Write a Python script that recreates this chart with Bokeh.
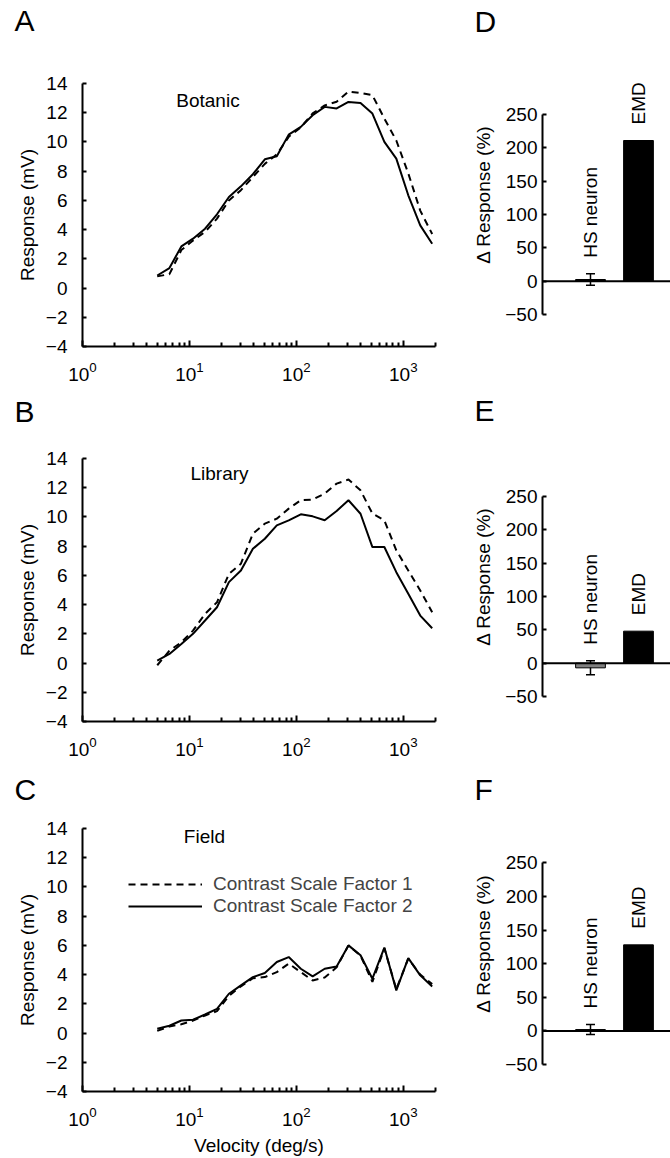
import math
from bokeh.plotting import figure
from bokeh.layouts import row, column
from bokeh.models import (Range1d, FixedTicker, Label, LabelSet, Legend, LegendItem, Span,
                          Whisker, TeeHead, ColumnDataSource, Title)
from bokeh.core.properties import value
from bokeh.embed import file_html
from bokeh.resources import INLINE

# ---------------- data ----------------
velocity = [5.0, 6.5, 8.4, 10.8, 14.0, 18.1, 23.4, 30.3, 39.2, 50.7, 65.6, 84.8,
            110, 142, 184, 238, 307, 398, 514, 665, 860, 1113, 1440, 1862]

botanic_csf1 = [0.8, 0.95, 2.6, 3.25, 3.85, 4.75, 6.0, 6.7, 7.6, 8.5, 9.15, 10.35,
                11.0, 11.95, 12.5, 12.75, 13.45, 13.35, 13.2, 11.6, 10.1, 7.85, 5.3, 3.7]
botanic_csf2 = [0.86, 1.37, 2.85, 3.38, 4.06, 5.05, 6.23, 6.96, 7.79, 8.81, 9.02, 10.5,
                11.03, 11.83, 12.4, 12.29, 12.74, 12.67, 11.94, 10.0, 8.86, 6.35, 4.29, 3.03]
library_csf1 = [-0.15, 0.85, 1.42, 2.22, 3.37, 4.16, 6.11, 6.8, 8.85, 9.54, 9.88, 10.57,
                11.14, 11.19, 11.6, 12.28, 12.56, 11.82, 10.23, 9.77, 7.71, 6.34, 4.97, 3.48]
library_csf2 = [0.16, 0.62, 1.31, 2.0, 2.91, 3.82, 5.54, 6.34, 7.82, 8.51, 9.42, 9.77,
                10.18, 10.04, 9.77, 10.41, 11.14, 10.22, 7.94, 7.94, 6.22, 4.74, 3.25, 2.38]
field_csf1 = [0.15, 0.45, 0.6, 0.85, 1.2, 1.5, 2.55, 3.2, 3.75, 3.83, 4.17, 4.75,
              4.17, 3.6, 3.8, 4.5, 6.0, 5.3, 3.5, 5.8, 3.0, 5.1, 4.0, 3.35]
field_csf2 = [0.29, 0.5, 0.86, 0.91, 1.27, 1.66, 2.69, 3.26, 3.83, 4.11, 4.86, 5.2,
              4.4, 3.88, 4.4, 4.56, 6.0, 5.32, 3.72, 5.85, 2.92, 5.13, 3.95, 3.19]

legend_labels = ["Contrast Scale Factor 1", "Contrast Scale Factor 2"]

bar_groups = ["HS neuron", "EMD"]
botanic_change = [2.5, 211]
botanic_err = [8.5, 0]
library_change = [-7, 48]
library_err = [10.5, 0]
field_change = [2, 128]
field_err = [7.5, 0]

x_major_ticks = [1, 10, 100, 1000]
y_line_ticks = [-4, -2, 0, 2, 4, 6, 8, 10, 12, 14]
y_bar_ticks = [-50, 0, 50, 100, 150, 200, 250]

FONT = "Liberation Sans"
FS = "19px"


def minus(v):
    return ("\u2212" + str(abs(v))) if v < 0 else str(v)


def style_axis(ax):
    ax.axis_line_width = 2
    ax.axis_line_color = "black"
    ax.major_tick_line_width = 2
    ax.minor_tick_line_width = 2
    ax.major_tick_line_color = "black"
    ax.minor_tick_line_color = "black"
    ax.major_tick_out = 0
    ax.minor_tick_out = 0
    ax.major_label_text_font = FONT
    ax.major_label_text_font_size = FS
    ax.major_label_text_color = "black"
    ax.axis_label_text_font = FONT
    ax.axis_label_text_font_size = FS
    ax.axis_label_text_font_style = "normal"
    ax.axis_label_text_color = "black"


def letter(p, text, frame_top, baseline):
    # panel letter; an empty second line pushes it up toward the corner
    gap = max(min(frame_top - 9 - baseline, frame_top - 40), 5)
    p.add_layout(Title(text=text + "\n", align="left", offset=-68, vertical_align="top",
                       standoff=0, text_font=FONT, text_font_size="30px",
                       text_line_height=gap / 30.0,
                       text_font_style="normal", text_color="black"), "above")


def line_panel(name, csf1, csf2, tag, height, btop, bbot, title_x, title_y,
               letter_base, xlabel=None, legend=False):
    p = figure(width=460, height=height, x_axis_type="log",
               x_range=Range1d(1, 2000), y_range=Range1d(-4, 14),
               output_backend="svg", toolbar_location=None,
               min_border_left=82, min_border_right=25,
               min_border_top=btop, min_border_bottom=bbot)
    p.outline_line_color = None
    p.grid.visible = False
    r1 = p.line(velocity, csf1, line_width=2, line_color="black", line_dash="7 5")
    r2 = p.line(velocity, csf2, line_width=2, line_color="black")

    minor = [m * d for d in x_major_ticks for m in range(2, 10) if m * d <= 2000]
    xa = p.xaxis[0]
    style_axis(xa)
    xa.ticker = FixedTicker(ticks=x_major_ticks, minor_ticks=minor)
    xa.major_tick_in = 6
    xa.minor_tick_in = 4
    xa.major_label_standoff = 15
    if xlabel:
        xa.axis_label = xlabel
        xa.axis_label_standoff = 6

    ya = p.yaxis[0]
    style_axis(ya)
    ya.ticker = FixedTicker(ticks=y_line_ticks)
    ya.major_label_overrides = {t: minus(t) for t in y_line_ticks}
    ya.major_tick_in = 4
    ya.minor_tick_line_color = None
    ya.major_label_standoff = 15
    ya.axis_label = "Response (mV)"
    ya.axis_label_standoff = 5

    p.add_layout(Label(x=title_x, y=title_y, text=name, text_font=FONT,
                       text_font_size=FS, text_align="center",
                       text_baseline="alphabetic", text_color="black"))
    letter(p, tag, btop, letter_base)

    if legend:
        lg = Legend(items=[LegendItem(label=legend_labels[0], renderers=[r1]),
                           LegendItem(label=legend_labels[1], renderers=[r2])],
                    location=(46, 174), glyph_width=74, glyph_height=20,
                    label_height=20, label_standoff=11, spacing=0, padding=0,
                    margin=0, border_line_color=None, background_fill_alpha=0,
                    label_text_font=FONT, label_text_font_size=FS,
                    label_text_baseline="middle")
        p.add_layout(lg)
    return p


def bar_panel(vals, errs, hs_color, tag, height, btop, bbot, letter_base):
    p = figure(width=210, height=height, x_range=Range1d(0, 2.667),
               y_range=Range1d(-50, 310), x_axis_location=None,
               output_backend="svg", toolbar_location=None,
               min_border_left=82, min_border_right=0,
               min_border_top=btop, min_border_bottom=bbot)
    p.outline_line_color = None
    p.grid.visible = False
    xs = [1, 2]
    p.vbar(x=xs, top=vals, width=0.62, fill_color=[hs_color, "black"],
           line_color="black", line_width=1)
    p.add_layout(Span(location=0, dimension="width", line_color="black", line_width=2))
    ex = [x for x, e in zip(xs, errs) if e > 0]
    ev = [v for v, e in zip(vals, errs) if e > 0]
    ee = [e for e in errs if e > 0]
    src = ColumnDataSource(dict(x=ex, upper=[v + e for v, e in zip(ev, ee)],
                                lower=[v - e for v, e in zip(ev, ee)]))
    p.add_layout(Whisker(source=src, base="x", upper="upper", lower="lower",
                         line_width=1.5, line_color="black",
                         upper_head=TeeHead(size=9, line_width=1.5, line_color="black"),
                         lower_head=TeeHead(size=9, line_width=1.5, line_color="black")))
    label_y = [max(v + e, 0) + 24 for v, e in zip(vals, errs)]
    lsrc = ColumnDataSource(dict(x=xs, y=label_y, text=bar_groups))
    p.add_layout(LabelSet(source=lsrc, x="x", y="y", text="text", angle=math.pi / 2,
                          text_align="left", text_baseline="middle",
                          text_font=value(FONT), text_font_size=value(FS),
                          text_color="black"))

    ya = p.yaxis[0]
    style_axis(ya)
    ya.bounds = (-50, 250)
    ya.ticker = FixedTicker(ticks=y_bar_ticks)
    ya.major_label_overrides = {t: minus(t) for t in y_bar_ticks}
    ya.major_tick_in = 4
    ya.minor_tick_line_color = None
    ya.major_label_standoff = 5
    ya.axis_label = "\u0394 Response (%)"
    ya.axis_label_standoff = 8
    letter(p, tag, btop, letter_base)
    return p


# left column: A (0-392), B (392-767), C (767-...)
pA = line_panel("Botanic", botanic_csf1, botanic_csf2, "A", 392, 83, 46, 14.9, 12.85, 33)
pB = line_panel("Library", library_csf1, library_csf2, "B", 375, 66, 46, 19.1, 12.97, 29)
pC = line_panel("Field", field_csf1, field_csf2, "C", 420, 61, 96, 13.8, 13.47, 33,
                xlabel="Velocity (deg/s)", legend=True)
# right column: D (0-383), E (383-758), F (758-...)
pD = bar_panel(botanic_change, botanic_err, "black", "D", 383, 74, 69, 33)
pE = bar_panel(library_change, library_err, "#808080", "E", 375, 73, 62, 39)
pF = bar_panel(field_change, field_err, "#9a9a9a", "F", 400, 64, 94, 41)

layout = row(column(pA, pB, pC), column(pD, pE, pF))
open("out.html", "w").write(file_html(layout, INLINE))
